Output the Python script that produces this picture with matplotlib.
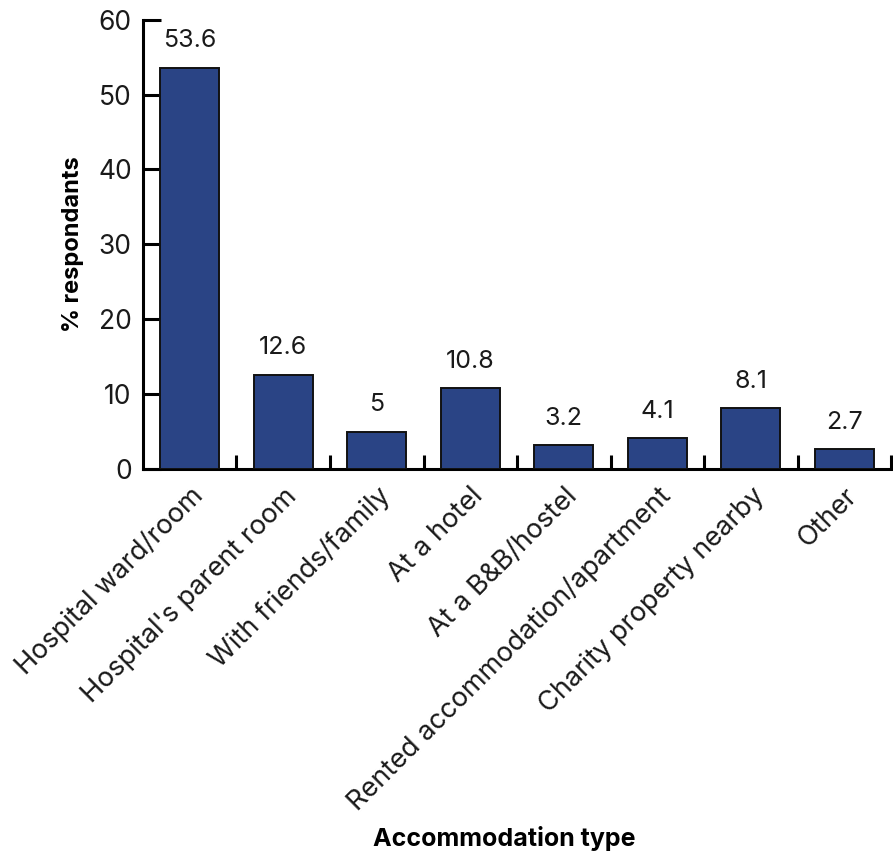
import matplotlib
matplotlib.use("Agg")
import matplotlib.pyplot as plt
import numpy as np

categories = [
    "Hospital ward/room",
    "Hospital's parent room",
    "With friends/family",
    "At a hotel",
    "At a B&B/hostel",
    "Rented accommodation/apartment",
    "Charity property nearby",
    "Other",
]
values = [53.6, 12.6, 5, 10.8, 3.2, 4.1, 8.1, 2.7]
value_labels = ["53.6", "12.6", "5", "10.8", "3.2", "4.1", "8.1", "2.7"]

plt.rcParams["font.family"] = ["Inter", "DejaVu Sans"]

fig = plt.figure(figsize=(8.93, 8.52), dpi=100)
ax = fig.add_axes([0.160, 0.4495, 0.838, 0.5275])

x = np.arange(len(categories))
ax.bar(x, values, width=0.63, color="#2a4485", edgecolor="#111111", linewidth=1.4, zorder=3)
for xi, v, lab in zip(x, values, value_labels):
    ax.annotate(lab, (xi, v), xytext=(0, 11), textcoords="offset points",
                ha="center", va="bottom", fontsize=18, color="#1a1a1a")

ax.set_xlim(-0.5, len(categories) - 0.5)
ax.set_ylim(0, 60)
ax.set_yticks(np.arange(0, 61, 10))
ax.tick_params(axis="y", direction="in", length=13, width=2.2, labelsize=19, pad=8,
               labelcolor="#1a1a1a")

# category ticks sit on the boundaries between bars
ax.set_xticks(x)
ax.set_xticklabels(categories, rotation=45, ha="right", rotation_mode="anchor",
                   fontsize=19.5, color="#1a1a1a")
ax.tick_params(axis="x", length=0, pad=10)
ax.set_xticks(np.arange(0.5, len(categories), 1.0), minor=True)
ax.tick_params(axis="x", which="minor", direction="in", length=10, width=2.2)

for side in ("top", "right"):
    ax.spines[side].set_visible(False)
for side in ("left", "bottom"):
    ax.spines[side].set_linewidth(2.2)

ax.set_ylabel("% respondants", fontsize=17, fontweight="bold", labelpad=10)
ax.set_xlabel("Accommodation type", fontsize=18, fontweight="bold")
ax.xaxis.set_label_coords(0.483, -0.795)

fig.savefig("out.png", dpi=100)
